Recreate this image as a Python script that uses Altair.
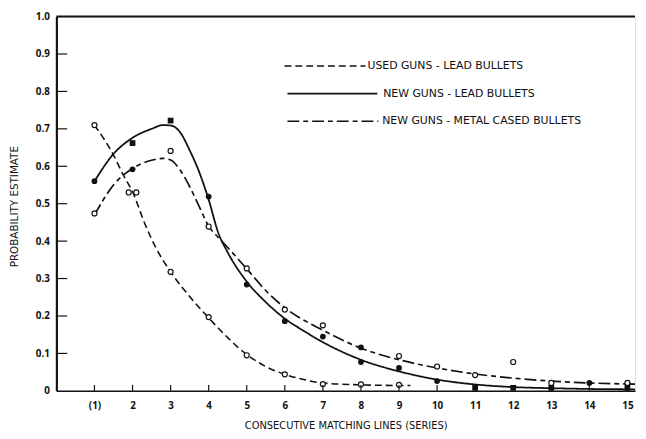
import altair as alt
import pandas as pd

# ---------------- axis values ----------------
X_TICKS = list(range(1, 16))
Y_TICKS = [0.1, 0.2, 0.3, 0.4, 0.5, 0.6, 0.7, 0.8, 0.9]
Y_LABEL_VALUES = [0, 0.1, 0.2, 0.3, 0.4, 0.5, 0.6, 0.7, 0.8, 0.9, 1.0]
X_DOMAIN = [0, 15.2]
Y_DOMAIN = [0, 1.0]

SERIES = [
    "USED GUNS -  LEAD BULLETS",
    "NEW GUNS - LEAD BULLETS",
    "NEW GUNS - METAL CASED BULLETS",
]

# ---------------- fitted curves ----------------
USED_CURVE_X = [1, 1.5, 1.75, 2, 2.33, 2.6, 3, 3.5, 4, 4.5, 5, 5.5, 6, 6.5, 7, 8, 9.3]
USED_CURVE_Y = [0.71, 0.63, 0.578, 0.532, 0.445, 0.385, 0.318, 0.252, 0.195, 0.142,
                0.097, 0.065, 0.044, 0.03, 0.021, 0.016, 0.014]

LEAD_CURVE_X = [1, 1.5, 2, 2.5, 2.8, 3, 3.25, 3.5, 3.75, 4, 4.25, 4.5, 5, 5.5, 6,
                6.5, 7, 8, 9, 10, 11, 12, 13, 14, 15.2]
LEAD_CURVE_Y = [0.56, 0.633, 0.676, 0.70, 0.71, 0.709, 0.691, 0.643, 0.585, 0.511,
                0.423, 0.37, 0.292, 0.237, 0.193, 0.16, 0.13, 0.083, 0.052, 0.030,
                0.017, 0.010, 0.007, 0.005, 0.004]

METAL_CURVE_X = [1, 1.5, 2, 2.5, 2.8, 3, 3.25, 3.5, 3.75, 4, 4.25, 4.5, 5, 5.5, 6,
                 6.75, 7, 8, 9, 10, 11, 12, 13, 14, 15.2]
METAL_CURVE_Y = [0.47, 0.55, 0.594, 0.616, 0.621, 0.617, 0.59, 0.546, 0.493, 0.44,
                 0.41, 0.383, 0.326, 0.268, 0.222, 0.175, 0.162, 0.114, 0.083, 0.061,
                 0.045, 0.034, 0.026, 0.021, 0.018]

# ---------------- observed points ----------------
USED_PTS_X = [1, 1.9, 2.1, 3, 4, 5, 6, 7, 8, 9]
USED_PTS_Y = [0.71, 0.53, 0.53, 0.318, 0.197, 0.095, 0.044, 0.018, 0.017, 0.016]

LEAD_PTS_X = [1, 2, 3, 4, 5, 6, 7, 8, 9, 10, 11, 12, 13, 15]
LEAD_PTS_Y = [0.56, 0.662, 0.722, 0.519, 0.284, 0.186, 0.145, 0.077, 0.061, 0.026,
              0.008, 0.008, 0.008, 0.008]
LEAD_PTS_SHAPE = ["circle", "square", "square", "circle", "circle", "circle", "circle",
                  "circle", "circle", "circle", "square", "square", "square", "square"]

METAL_PTS_X = [1, 2, 3, 4, 5, 6, 7, 8, 9, 10, 11, 12, 13, 14, 15]
METAL_PTS_Y = [0.474, 0.592, 0.641, 0.439, 0.327, 0.217, 0.175, 0.116, 0.093, 0.065,
               0.042, 0.077, 0.021, 0.021, 0.021]
METAL_PTS_FILLED = [False, True, False, False, False, False, False, True, False, False,
                    False, False, False, True, False]

INK = "#111111"
FONT = "DejaVu Sans"
NUM_FONT = "Open Sans"
DASH_USED = [7, 4]
DASH_METAL = [12, 4, 5, 4]

x_scale = alt.Scale(domain=X_DOMAIN, nice=False, zero=False)
y_scale = alt.Scale(domain=Y_DOMAIN, nice=False)

curves = pd.concat([
    pd.DataFrame({"x": USED_CURVE_X, "y": USED_CURVE_Y, "s": SERIES[0]}),
    pd.DataFrame({"x": LEAD_CURVE_X, "y": LEAD_CURVE_Y, "s": SERIES[1]}),
    pd.DataFrame({"x": METAL_CURVE_X, "y": METAL_CURVE_Y, "s": SERIES[2]}),
])

pts_open = pd.concat([
    pd.DataFrame({"x": USED_PTS_X, "y": USED_PTS_Y}),
    pd.DataFrame({"x": [x for x, f in zip(METAL_PTS_X, METAL_PTS_FILLED) if not f],
                  "y": [y for y, f in zip(METAL_PTS_Y, METAL_PTS_FILLED) if not f]}),
])
pts_filled = pd.concat([
    pd.DataFrame({"x": LEAD_PTS_X, "y": LEAD_PTS_Y, "shape": LEAD_PTS_SHAPE}),
    pd.DataFrame({"x": [x for x, f in zip(METAL_PTS_X, METAL_PTS_FILLED) if f],
                  "y": [y for y, f in zip(METAL_PTS_Y, METAL_PTS_FILLED) if f],
                  "shape": "circle"}),
])

x_axis = alt.Axis(
    values=X_TICKS, ticks=False, grid=False, domainColor=INK, domainWidth=1.5,
    labelExpr="datum.value == 1 ? '(1)' : datum.label", labelFont=NUM_FONT,
    labelFontSize=10, labelColor=INK, labelPadding=10, labelFontWeight="bold",
    labelOverlap=False,
    title="CONSECUTIVE MATCHING LINES (SERIES)", titleFont=FONT, titleFontSize=10,
    titleFontWeight="normal", titleColor=INK, titleY=35, titleBaseline="middle",
)
y_axis = alt.Axis(
    values=Y_LABEL_VALUES, ticks=False, grid=False, domainColor=INK, domainWidth=2.2,
    labelExpr="datum.value == 0 ? '0' : format(datum.value, '.1f')", labelFont=NUM_FONT,
    labelFontSize=10, labelColor=INK, labelPadding=7, labelFontWeight="bold",
    labelOverlap=False,
    title="PROBABILITY ESTIMATE", titleFont=FONT, titleFontSize=10.5,
    titleFontWeight="normal", titleColor=INK, titleX=-42, titleY=192,
    titleBaseline="middle",
)

base_x = alt.X("x:Q", scale=x_scale, axis=x_axis)
base_y = alt.Y("y:Q", scale=y_scale, axis=y_axis)

layers = []

# Curves
dash_map = {SERIES[0]: DASH_USED, SERIES[1]: [1, 0], SERIES[2]: DASH_METAL}
width_map = {SERIES[0]: 1.6, SERIES[1]: 1.8, SERIES[2]: 1.7}
for s in SERIES:
    layers.append(
        alt.Chart(curves[curves["s"] == s]).mark_line(
            interpolate="monotone", color=INK, strokeWidth=width_map[s],
            strokeDash=dash_map[s]
        ).encode(x=base_x, y=base_y)
    )

# Points
layers.append(
    alt.Chart(pts_open).mark_point(
        shape="circle", filled=False, size=26, stroke=INK, strokeWidth=1.2,
        fill="white", fillOpacity=1, opacity=1
    ).encode(x=base_x, y=base_y)
)
layers.append(
    alt.Chart(pts_filled).mark_point(filled=True, size=34, color=INK, opacity=1).encode(
        x=base_x, y=base_y, shape=alt.Shape("shape:N", scale=None)
    )
)

# Inward axis ticks
layers.append(
    alt.Chart(pd.DataFrame({"y": Y_TICKS})).mark_rule(color=INK, strokeWidth=1.2).encode(
        y=alt.Y("y:Q", scale=y_scale, axis=y_axis), x=alt.value(0), x2=alt.value(11)
    )
)
layers.append(
    alt.Chart(pd.DataFrame({"x": X_TICKS})).mark_rule(color=INK, strokeWidth=1.2).encode(
        x=alt.X("x:Q", scale=x_scale, axis=x_axis), y=alt.value(379), y2=alt.value(373)
    )
)
# Top frame line
layers.append(
    alt.Chart(pd.DataFrame({"y": [Y_DOMAIN[1]]})).mark_rule(color=INK, strokeWidth=2).encode(
        y=alt.Y("y:Q", scale=y_scale, axis=y_axis)
    )
)

# Legend (manual, like the original drawing)
legend_rows = [
    (SERIES[0], DASH_USED, 231, 313, 50, 315),
    (SERIES[1], [1, 0], 234, 325, 78, 331),
    (SERIES[2], DASH_METAL, 234, 326, 106, 330),
]
for name, dash, x1, x2, yy, tx in legend_rows:
    layers.append(
        alt.Chart(pd.DataFrame({"s": [name]})).mark_rule(
            color=INK, strokeWidth=1.6, strokeDash=dash
        ).encode(x=alt.value(x1), x2=alt.value(x2), y=alt.value(yy))
    )
    layers.append(
        alt.Chart(pd.DataFrame({"s": [name]})).mark_text(
            align="left", baseline="middle", font=FONT, fontSize=11, color=INK
        ).encode(x=alt.value(tx), y=alt.value(yy), text="s:N")
    )

chart = alt.layer(*layers).properties(
    width=586, height=379,
    autosize=alt.AutoSizeParams(type="none"),
    padding={"left": 49, "top": 6, "right": 3, "bottom": 38},
).configure_view(stroke=None).configure(background="white")

chart.save("out.html", embed_options={"renderer": "svg", "actions": False})
